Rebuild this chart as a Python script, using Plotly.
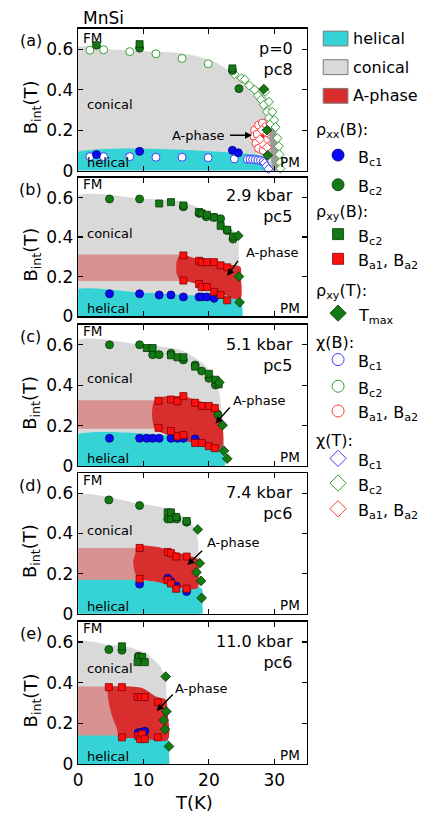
import plotly.graph_objects as go

W, H = 427, 823
FONT = "DejaVu Sans"

# ------------------------------------------------------------------ data
T_RANGE = [0, 35]
B_RANGE = [0, 0.7]
X_TICKS = [0, 10, 20, 30]
X_TICK_LABELS = ["0", "10", "20", "30"]
Y_TICKS = [0, 0.2, 0.4, 0.6]
Y_TICK_LABELS = ["0", "0.2", "0.4", "0.6"]
PANEL_LABELS = ["(a)", "(b)", "(c)", "(d)", "(e)"]
PRESSURE_LABELS = ["p=0", "2.9 kbar", "5.1 kbar", "7.4 kbar", "11.0 kbar"]
SAMPLE_LABELS = ["pc8", "pc5", "pc5", "pc6", "pc6"]

# ---- panel (a): p = 0
a_con_T = [-1, -1, 5, 10, 15, 18, 21, 23.5, 25.5, 27, 28.4, 29.2, 29.7, 29.9, 30.0, 30.1]
a_con_B = [-0.02, 0.6, 0.598, 0.59, 0.582, 0.566, 0.535, 0.485, 0.45, 0.42, 0.39, 0.34, 0.29, 0.2, 0.1, -0.02]
a_dark_T = [29.0, 29.7, 31.1, 30.6, 30.1, 29.6]
a_dark_B = [0.27, -0.02, -0.02, 0.13, 0.24, 0.3]
a_hel_T = [-1, -1, 27, 28.2, 28.8, 29.0, 29.1]
a_hel_B = [-0.02, 0.08, 0.08, 0.07, 0.045, 0.015, -0.02]
a_aph_T = [27.4, 27.9, 28.5, 28.7, 28.4, 27.8]
a_aph_B = [0.16, 0.135, 0.145, 0.18, 0.205, 0.2]
a_pale_T = []
a_pale_B = []

a_rxx_bc1_T = [2.8, 9.4, 23.6, 24.5]
a_rxx_bc1_B = [0.079, 0.095, 0.1, 0.088]
a_rxx_bc2_T = [2.8, 9.4, 23.6, 24.6]
a_rxx_bc2_B = [0.62, 0.605, 0.495, 0.405]
a_rxy_bc2_T = [9.4, 23.6]
a_rxy_bc2_B = [0.625, 0.505]
a_rxy_ba_T = []
a_rxy_ba_B = []
a_tmax_T = [28.4, 28.9, 29.0]
a_tmax_B = [0.403, 0.2, 0.076]
a_chiB_bc1_T = [1.8, 3.9, 7.9, 11.9, 15.9, 19.9, 23.9, 25.9, 26.3, 26.7, 27.1, 27.5, 27.9, 28.3]
a_chiB_bc1_B = [0.069, 0.069, 0.069, 0.066, 0.066, 0.064, 0.058, 0.056, 0.056, 0.055, 0.054, 0.052, 0.05, 0.045]
a_chiB_bc2_T = [1.8, 3.9, 7.9, 11.9, 15.9, 19.9]
a_chiB_bc2_B = [0.595, 0.597, 0.588, 0.577, 0.554, 0.528]
a_chiB_ba_T = [27.0, 26.9, 27.2, 27.6, 28.2, 27.6, 28.3, 27.4]
a_chiB_ba_B = [0.2, 0.17, 0.135, 0.225, 0.235, 0.11, 0.1, 0.18]
a_chiT_bc1_T = [28.5, 28.8, 29.1]
a_chiT_bc1_B = [0.038, 0.022, 0.008]
a_chiT_bc2_T = [23.9, 25.0, 25.5, 26.2, 27.0, 27.5, 28.0, 28.4, 28.9, 29.2, 29.4,
                28.6, 29.2, 29.7, 30.0, 30.2, 30.5, 30.7, 30.8, 30.9, 30.95]
a_chiT_bc2_B = [0.476, 0.456, 0.45, 0.42, 0.4, 0.37, 0.35, 0.325, 0.29, 0.26, 0.23,
                0.39, 0.34, 0.29, 0.25, 0.215, 0.16, 0.12, 0.08, 0.04, 0.01]
a_chiT_ba_T = [28.5, 28.8, 28.7, 28.3, 28.9, 27.8, 28.1]
a_chiT_ba_B = [0.215, 0.185, 0.15, 0.13, 0.115, 0.155, 0.2]

# ---- panel (b): 2.9 kbar
b_con_T = [-1, -1, 9.4, 12, 14, 16, 18.9, 21, 23, 24.3, 24.6, 24.7]
b_con_B = [-0.02, 0.595, 0.595, 0.59, 0.585, 0.58, 0.54, 0.5, 0.45, 0.415, 0.3, -0.02]
b_hel_T = [-1, -1, 10, 20, 24.9, 25.1, 25.2]
b_hel_B = [-0.02, 0.125, 0.118, 0.1, 0.086, 0.05, -0.02]
b_pale_T = [-1, -1, 16, 16]
b_pale_B = [0.178, 0.312, 0.312, 0.178]
b_aph_T = [16, 15.5, 15.1, 15.0, 15.1, 15.5, 16, 18.5, 21.5, 24.8, 24.9, 24.8, 21.5, 18.5]
b_aph_B = [0.313, 0.305, 0.28, 0.245, 0.21, 0.188, 0.18, 0.16, 0.12, 0.085, 0.2, 0.25, 0.263, 0.285]

b_rxx_bc1_T = [4.8, 9.4, 12.4, 14.2, 16.1, 18.5, 18.9, 19.7, 20.8]
b_rxx_bc1_B = [0.113, 0.113, 0.107, 0.107, 0.097, 0.097, 0.097, 0.097, 0.09]
b_rxx_bc2_T = [4.8, 9.4, 16.1, 18.5, 19.6, 20.8, 21.8, 22.8, 23.7]
b_rxx_bc2_B = [0.593, 0.593, 0.553, 0.52, 0.503, 0.5, 0.493, 0.433, 0.39]
b_rxy_bc2_T = [12.4, 14.2, 16.1, 18.5, 18.9, 19.7, 20.8, 21.8, 22.8, 23.7]
b_rxy_bc2_B = [0.57, 0.577, 0.56, 0.527, 0.52, 0.513, 0.5, 0.457, 0.437, 0.403]
b_rxy_ba_T = [16.1, 18.5, 18.9, 19.7, 20.8, 21.8, 22.8, 16.1, 18.5, 18.9, 19.7, 20.8, 21.8, 22.8]
b_rxy_ba_B = [0.307, 0.28, 0.273, 0.273, 0.273, 0.257, 0.247, 0.18, 0.163, 0.147, 0.147, 0.123, 0.107, 0.08]
b_tmax_T = [24.5, 24.6, 24.7]
b_tmax_B = [0.407, 0.2, 0.07]

# ---- panel (c): 5.1 kbar
c_con_T = [-1, -1, 9.4, 13, 16, 18.9, 21, 21.7, 22.0, 22.3, 22.4]
c_con_B = [-0.02, 0.61, 0.603, 0.59, 0.57, 0.512, 0.44, 0.34, 0.25, 0.1, -0.02]
c_hel_T = [-1, -1, 18, 21, 22, 22.4, 22.5]
c_hel_B = [-0.02, 0.143, 0.142, 0.14, 0.13, 0.08, -0.02]
c_pale_T = [-1, -1, 13, 13]
c_pale_B = [0.184, 0.325, 0.325, 0.184]
c_aph_T = [11.7, 12.9, 14.2, 16.1, 18.9, 21, 21.8, 22.1, 22.2, 21.8, 21, 18.9, 16, 12.9, 11.7, 11.3, 11.4]
c_aph_B = [0.326, 0.342, 0.346, 0.345, 0.318, 0.3, 0.27, 0.2, 0.11, 0.085, 0.082, 0.098, 0.13, 0.163, 0.188, 0.253, 0.3]

c_rxx_bc1_T = [4.8, 9.4, 10.5, 11.4, 12.4, 14.2, 15.2, 16.1, 17.9]
c_rxx_bc1_B = [0.137, 0.137, 0.137, 0.137, 0.137, 0.137, 0.137, 0.137, 0.134]
c_rxx_bc2_T = [4.8, 9.4, 11.4, 12.4, 14.2, 16.1, 17.9, 18.9, 20.0, 21.0, 21.4]
c_rxx_bc2_B = [0.6, 0.6, 0.551, 0.551, 0.558, 0.525, 0.5, 0.47, 0.434, 0.401, 0.254]
c_rxy_bc2_T = [10.5, 11.4, 14.2, 15.2, 16.1, 17.9, 20.0, 21.0, 21.5]
c_rxy_bc2_B = [0.584, 0.584, 0.548, 0.538, 0.538, 0.492, 0.456, 0.427, 0.404]
c_rxy_ba_T = [12.3, 14.2, 15.2, 16.1, 17.9, 18.9, 20.0, 20.9, 12.3, 14.2, 15.2, 16.1, 17.9, 18.9, 20.0, 20.9]
c_rxy_ba_B = [0.323, 0.329, 0.32, 0.346, 0.313, 0.297, 0.297, 0.287, 0.189, 0.173, 0.147, 0.153, 0.114, 0.114, 0.098, 0.088]
c_tmax_T = [21.6, 22.1, 22.3, 22.8]
c_tmax_B = [0.414, 0.202, 0.075, 0.036]

# ---- panel (d): 7.4 kbar
d_con_T = [-1, -1, 9.4, 14, 16.9, 18, 18.3, 18.5, 18.8, 18.9]
d_con_B = [-0.02, 0.58, 0.548, 0.521, 0.466, 0.416, 0.37, 0.25, 0.1, -0.02]
d_hel_T = [-1, -1, 10, 15, 18.9, 19.0, 19.1]
d_hel_B = [-0.02, 0.172, 0.165, 0.15, 0.125, 0.06, -0.02]
d_pale_T = [-1, -1, 10, 10]
d_pale_B = [0.17, 0.328, 0.328, 0.17]
d_aph_T = [8.9, 9.4, 12.4, 13.9, 16.9, 18.3, 18.4, 18.3, 16.9, 13.9, 11.4, 9.4, 8.7, 8.4]
d_aph_B = [0.321, 0.338, 0.331, 0.315, 0.289, 0.272, 0.2, 0.13, 0.121, 0.146, 0.162, 0.174, 0.203, 0.26]

d_rxx_bc1_T = [9.4, 13.7, 14.2, 15.0, 16.6]
d_rxx_bc1_B = [0.148, 0.177, 0.161, 0.138, 0.111]
d_rxx_bc2_T = [4.7, 9.4, 13.7, 14.2, 15.1, 16.6]
d_rxx_bc2_B = [0.567, 0.539, 0.472, 0.472, 0.472, 0.456]
d_rxy_bc2_T = [13.7, 14.2, 15.0, 16.6]
d_rxy_bc2_B = [0.505, 0.505, 0.482, 0.462]
d_rxy_ba_T = [9.4, 13.7, 14.2, 15.0, 16.6, 9.4, 13.7, 14.2, 15.0, 16.6]
d_rxy_ba_B = [0.328, 0.308, 0.302, 0.285, 0.285, 0.174, 0.167, 0.151, 0.125, 0.125]
d_tmax_T = [18.3, 18.6, 18.1, 18.8, 18.9]
d_tmax_B = [0.42, 0.252, 0.207, 0.164, 0.079]

# ---- panel (e): 11.0 kbar
e_con_T = [-1, -1, 5, 7, 10.4, 12.4, 13.3, 13.5, 13.6, 13.7]
e_con_B = [-0.02, 0.595, 0.585, 0.58, 0.543, 0.486, 0.43, 0.35, 0.2, -0.02]
e_hel_T = [-1, -1, 10, 13.8, 13.9, 14.0]
e_hel_B = [-0.02, 0.141, 0.13, 0.118, 0.06, -0.02]
e_pale_T = [-1, -1, 7, 7]
e_pale_B = [0.14, 0.381, 0.381, 0.14]
e_aph_T = [4.4, 8.0, 9.9, 11.9, 13.4, 13.7, 13.7, 10, 6.4, 5.8, 5.2, 4.7, 4.5]
e_aph_B = [0.381, 0.381, 0.373, 0.332, 0.316, 0.25, 0.118, 0.125, 0.135, 0.186, 0.235, 0.3, 0.35]

e_rxx_bc1_T = [9.2, 9.6, 10.2]
e_rxx_bc1_B = [0.154, 0.155, 0.161]
e_rxx_bc2_T = [4.7, 6.7, 9.2]
e_rxx_bc2_B = [0.563, 0.56, 0.53]
e_rxy_bc2_T = [6.7, 9.3, 9.8, 9.1, 10.2]
e_rxy_bc2_B = [0.579, 0.527, 0.527, 0.501, 0.501]
e_rxy_ba_T = [4.7, 6.7, 9.1, 9.6, 10.2, 12.2, 6.7, 9.2, 9.5, 9.8, 10.2, 12.2]
e_rxy_ba_B = [0.378, 0.378, 0.329, 0.329, 0.329, 0.303, 0.131, 0.138, 0.122, 0.148, 0.122, 0.131]
e_tmax_T = [13.4, 13.5, 13.1, 13.3, 13.9]
e_tmax_B = [0.43, 0.258, 0.216, 0.17, 0.086]

# ------------------------------------------------------------------ styles
CYAN = "#35d3d6"
GRAY = "#d9d9d9"
DARK = "#9c9c9c"
RED = "#d92e2e"
PALE = "#d89292"
BLUE_F, BLUE_L = "#0a0af5", "#00007a"
GREEN_F, GREEN_L = "#137a13", "#063806"
RED_F, RED_L = "#ff1010", "#800000"
BLUE_H, GREEN_H, RED_H = "#3c3cff", "#37a037", "#ff3c3c"

X_LEFT, X_RIGHT = 74, 305.5
PANEL_TOPS = [29.3, 180, 328.6, 479, 629.4]
PANEL_BOTS = [172.7, 320, 471.7, 621.4, 773.3]


def px(x):
    return x / W


def py(y):
    return 1 - y / H


panels = [
    dict(con=(a_con_T, a_con_B), hel=(a_hel_T, a_hel_B), pale=(a_pale_T, a_pale_B), aph=(a_aph_T, a_aph_B),
         dark=(a_dark_T, a_dark_B),
         rxx1=(a_rxx_bc1_T, a_rxx_bc1_B), rxx2=(a_rxx_bc2_T, a_rxx_bc2_B), rxy2=(a_rxy_bc2_T, a_rxy_bc2_B),
         rxya=(a_rxy_ba_T, a_rxy_ba_B), tmax=(a_tmax_T, a_tmax_B),
         chib1=(a_chiB_bc1_T, a_chiB_bc1_B), chib2=(a_chiB_bc2_T, a_chiB_bc2_B), chiba=(a_chiB_ba_T, a_chiB_ba_B),
         chit1=(a_chiT_bc1_T, a_chiT_bc1_B), chit2=(a_chiT_bc2_T, a_chiT_bc2_B), chita=(a_chiT_ba_T, a_chiT_ba_B)),
    dict(con=(b_con_T, b_con_B), hel=(b_hel_T, b_hel_B), pale=(b_pale_T, b_pale_B), aph=(b_aph_T, b_aph_B),
         rxx1=(b_rxx_bc1_T, b_rxx_bc1_B), rxx2=(b_rxx_bc2_T, b_rxx_bc2_B), rxy2=(b_rxy_bc2_T, b_rxy_bc2_B),
         rxya=(b_rxy_ba_T, b_rxy_ba_B), tmax=(b_tmax_T, b_tmax_B)),
    dict(con=(c_con_T, c_con_B), hel=(c_hel_T, c_hel_B), pale=(c_pale_T, c_pale_B), aph=(c_aph_T, c_aph_B),
         rxx1=(c_rxx_bc1_T, c_rxx_bc1_B), rxx2=(c_rxx_bc2_T, c_rxx_bc2_B), rxy2=(c_rxy_bc2_T, c_rxy_bc2_B),
         rxya=(c_rxy_ba_T, c_rxy_ba_B), tmax=(c_tmax_T, c_tmax_B)),
    dict(con=(d_con_T, d_con_B), hel=(d_hel_T, d_hel_B), pale=(d_pale_T, d_pale_B), aph=(d_aph_T, d_aph_B),
         rxx1=(d_rxx_bc1_T, d_rxx_bc1_B), rxx2=(d_rxx_bc2_T, d_rxx_bc2_B), rxy2=(d_rxy_bc2_T, d_rxy_bc2_B),
         rxya=(d_rxy_ba_T, d_rxy_ba_B), tmax=(d_tmax_T, d_tmax_B)),
    dict(con=(e_con_T, e_con_B), hel=(e_hel_T, e_hel_B), pale=(e_pale_T, e_pale_B), aph=(e_aph_T, e_aph_B),
         rxx1=(e_rxx_bc1_T, e_rxx_bc1_B), rxx2=(e_rxx_bc2_T, e_rxx_bc2_B), rxy2=(e_rxy_bc2_T, e_rxy_bc2_B),
         rxya=(e_rxy_ba_T, e_rxy_ba_B), tmax=(e_tmax_T, e_tmax_B)),
]

# text positions in data coordinates for each panel
APH_TEXT = [(18.4, 0.175), (29.7, 0.32), (27.8, 0.323), (23.7, 0.354), (18.9, 0.373)]
APH_ARROW = [((23.0, 0.175), (26.6, 0.175)), ((24.6, 0.287), (22.8, 0.203)),
             ((23.4, 0.297), (21.0, 0.209)), ((19.2, 0.321), (16.7, 0.243)),
             ((14.7, 0.349), (12.0, 0.26))]
CON_B = [0.325, 0.417, 0.432, 0.413, 0.47]
PRES_B = [0.6, 0.597, 0.595, 0.593, 0.595]
SAMP_B = [0.505, 0.513, 0.502, 0.511, 0.503]

fig = go.Figure()
annotations = []
shapes = []

MARK = {
    "rxx1": dict(symbol="circle", size=8, color=BLUE_F, line=dict(color=BLUE_L, width=0.8)),
    "rxx2": dict(symbol="circle", size=8, color=GREEN_F, line=dict(color=GREEN_L, width=0.8)),
    "rxy2": dict(symbol="square", size=7, color=GREEN_F, line=dict(color=GREEN_L, width=0.8)),
    "rxya": dict(symbol="square", size=7, color=RED_F, line=dict(color=RED_L, width=0.8)),
    "tmax": dict(symbol="diamond", size=7.5, color=GREEN_F, line=dict(color=GREEN_L, width=0.8)),
    "chib1": dict(symbol="circle", size=8, color="white", line=dict(color=BLUE_H, width=1)),
    "chib2": dict(symbol="circle", size=8, color="white", line=dict(color=GREEN_H, width=1)),
    "chiba": dict(symbol="circle", size=8, color="white", line=dict(color=RED_H, width=1)),
    "chit1": dict(symbol="diamond", size=7, color="white", line=dict(color=BLUE_H, width=1)),
    "chit2": dict(symbol="diamond", size=7, color="white", line=dict(color=GREEN_H, width=1)),
    "chita": dict(symbol="diamond", size=7, color="white", line=dict(color=RED_H, width=1)),
}
ORDER = ["chib2", "chit2", "chib1", "chit1", "rxx1", "rxx2", "rxy2", "rxya", "chiba", "chita", "tmax"]

for i, p in enumerate(panels):
    n = i + 1
    xa, ya = ("x", "y") if n == 1 else (f"x{n}", f"y{n}")

    def region(key, color, spline=False):
        if key not in p or not p[key][0]:
            return
        t, b = p[key]
        fig.add_trace(go.Scatter(
            x=t, y=b, xaxis=xa, yaxis=ya, mode="lines", fill="toself", fillcolor=color,
            line=dict(width=0, color=color, shape="spline" if spline else "linear", smoothing=0.8),
            hoverinfo="skip", showlegend=False))

    region("con", GRAY, spline=True)
    region("dark", DARK)
    region("hel", CYAN, spline=True)
    region("pale", PALE)
    region("aph", RED, spline=True)

    for key in ORDER:
        if key not in p or not p[key][0]:
            continue
        t, b = p[key]
        fig.add_trace(go.Scatter(x=t, y=b, xaxis=xa, yaxis=ya, mode="markers",
                                 marker=MARK[key], hoverinfo="skip", showlegend=False, cliponaxis=False))

    top, bot = PANEL_TOPS[i], PANEL_BOTS[i]
    common = dict(showline=True, linecolor="black", linewidth=1.5, mirror="ticks", ticks="inside",
                  ticklen=5, tickwidth=1.2, tickcolor="black", showgrid=False, zeroline=False,
                  tickfont=dict(family=FONT, size=17, color="black"))
    xname = "xaxis" if n == 1 else f"xaxis{n}"
    yname = "yaxis" if n == 1 else f"yaxis{n}"
    fig.layout[xname] = dict(domain=[px(X_LEFT), px(X_RIGHT)], range=T_RANGE, anchor=ya,
                             tickvals=X_TICKS, ticktext=X_TICK_LABELS, showticklabels=(n == 5), **common)
    fig.layout[yname] = dict(domain=[py(bot), py(top)], range=B_RANGE, anchor=xa,
                             tickvals=Y_TICKS, ticktext=Y_TICK_LABELS, **common)

    def txt(x, y, s, size, xanchor="left", yanchor="middle", align="left"):
        annotations.append(dict(x=x, y=y, xref=xa, yref=ya, text=s, showarrow=False,
                                xanchor=xanchor, yanchor=yanchor, align=align,
                                font=dict(family=FONT, size=size, color="black")))

    txt(0.4, 0.668 if i else 0.656, "FM", 13.5)
    txt(34.3, 0.042, "PM", 13.5, xanchor="right")
    txt(1.0, CON_B[i], "conical", 13)
    txt(1.0, 0.038, "helical", 13)
    txt(33.2, (PRES_B[i] + SAMP_B[i]) / 2, PRESSURE_LABELS[i] + "<br>" + SAMPLE_LABELS[i], 16,
        xanchor="right", align="right")
    txt(APH_TEXT[i][0], APH_TEXT[i][1], "A-phase", 13, xanchor="center")
    (sx, sy), (tx, ty) = APH_ARROW[i]
    annotations.append(dict(x=tx, y=ty, ax=sx, ay=sy, xref=xa, yref=ya, axref=xa, ayref=ya,
                            text="", showarrow=True, arrowhead=2, arrowsize=1, arrowwidth=1.4,
                            arrowcolor="black", standoff=0, startstandoff=0))

    # panel letter and y-axis title
    annotations.append(dict(x=px(26), y=py(top + 12), xref="paper", yref="paper", text=PANEL_LABELS[i],
                            showarrow=False, xanchor="center", yanchor="middle",
                            font=dict(family=FONT, size=16, color="black")))
    annotations.append(dict(x=px(27), y=py((top + bot) / 2 + 8), xref="paper", yref="paper",
                            text="B<sub>int</sub>(T)", textangle=-90, showarrow=False,
                            xanchor="center", yanchor="middle",
                            font=dict(family=FONT, size=18, color="black")))

annotations.append(dict(x=px(77), y=py(18), xref="paper", yref="paper", text="MnSi", showarrow=False,
                        xanchor="left", yanchor="middle", font=dict(family=FONT, size=17, color="black")))
annotations.append(dict(x=px(191), y=py(812), xref="paper", yref="paper", text="T(K)", showarrow=False,
                        xanchor="center", yanchor="middle", font=dict(family=FONT, size=18, color="black")))

# ------------------------------------------------------------------ legend (pixel-coordinate overlay axis)
LEG_PATCH_LABELS = ["helical", "conical", "A-phase"]
LEG_PATCH_COLORS = [CYAN, GRAY, RED]
LEG_PATCH_Y = [39, 68, 97]
for lab, col, y in zip(LEG_PATCH_LABELS, LEG_PATCH_COLORS, LEG_PATCH_Y):
    shapes.append(dict(type="rect", xref="paper", yref="paper", x0=px(322), x1=px(347),
                       y0=py(y + 7.5), y1=py(y - 7.5), fillcolor=col, line=dict(color="#7a7a7a", width=1)))
    annotations.append(dict(x=px(350), y=py(y), xref="paper", yref="paper", text=lab, showarrow=False,
                            xanchor="left", yanchor="middle", font=dict(family=FONT, size=16, color="black")))

LEG_HEADERS = ["ρ<sub>xx</sub>(B):", "ρ<sub>xy</sub>(B):", "ρ<sub>xy</sub>(T):", "χ(B):", "χ(T):"]
LEG_HEADER_Y = [132, 215, 295, 347, 446]
for lab, y in zip(LEG_HEADERS, LEG_HEADER_Y):
    annotations.append(dict(x=px(313), y=py(y), xref="paper", yref="paper", text=lab, showarrow=False,
                            xanchor="left", yanchor="middle", font=dict(family=FONT, size=16, color="black")))

LEG_ITEM_KEYS = ["rxx1", "rxx2", "rxy2", "rxya", "tmax", "chib1", "chib2", "chiba", "chit1", "chit2", "chita"]
LEG_ITEM_LABELS = ["B<sub>c1</sub>", "B<sub>c2</sub>", "B<sub>c2</sub>", "B<sub>a1</sub>, B<sub>a2</sub>",
                   "T<sub>max</sub>", "B<sub>c1</sub>", "B<sub>c2</sub>", "B<sub>a1</sub>, B<sub>a2</sub>",
                   "B<sub>c1</sub>", "B<sub>c2</sub>", "B<sub>a1</sub>, B<sub>a2</sub>"]
LEG_ITEM_Y = [157, 187, 237, 262, 317, 364, 391, 416, 464, 489, 515]
LEG_SIZE = {"circle": 12, "square": 11, "diamond": 12.5}
for key, lab, y in zip(LEG_ITEM_KEYS, LEG_ITEM_LABELS, LEG_ITEM_Y):
    m = dict(MARK[key])
    m["size"] = LEG_SIZE[m["symbol"]]
    fig.add_trace(go.Scatter(x=[337], y=[y], xaxis="x6", yaxis="y6", mode="markers", marker=m,
                             hoverinfo="skip", showlegend=False, cliponaxis=False))
    annotations.append(dict(x=px(355), y=py(y + 3), xref="paper", yref="paper", text=lab, showarrow=False,
                            xanchor="left", yanchor="middle", font=dict(family=FONT, size=16, color="black")))

fig.layout["xaxis6"] = dict(domain=[0, 1], range=[0, W], visible=False, anchor="y6")
fig.layout["yaxis6"] = dict(domain=[0, 1], range=[H, 0], visible=False, anchor="x6")

fig.update_layout(
    width=W, height=H, margin=dict(l=0, r=0, t=0, b=0),
    paper_bgcolor="white", plot_bgcolor="rgba(0,0,0,0)",
    showlegend=False, annotations=annotations, shapes=shapes,
    font=dict(family=FONT, color="black"),
)

fig.write_html("out.html", config={"displayModeBar": False, "staticPlot": True},
               post_script="document.body.style.margin='0';document.body.style.padding='0';"
                           "document.documentElement.style.overflow='hidden';")
